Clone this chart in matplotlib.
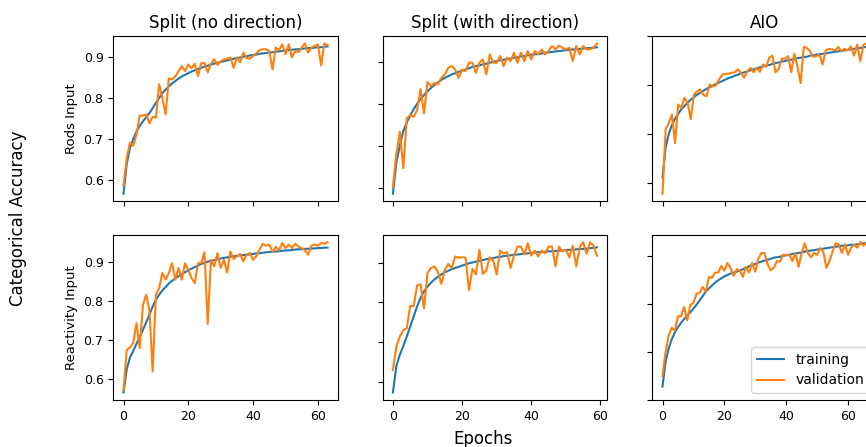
import matplotlib
matplotlib.use("Agg")
import matplotlib.pyplot as plt
import numpy as np

col_titles = ["Split (no direction)", "Split (with direction)", "AIO"]
row_labels = ["Rods Input", "Reactivity Input"]

# ---- Rods input ----
rods_split_nodir_train = [0.567, 0.640, 0.678, 0.700, 0.718, 0.732, 0.743, 0.753, 0.763, 0.775,
                          0.788, 0.800, 0.811, 0.820, 0.828, 0.835, 0.841, 0.847, 0.852, 0.856,
                          0.860, 0.864, 0.867, 0.870, 0.873, 0.876, 0.878, 0.881, 0.883, 0.885,
                          0.887, 0.889, 0.891, 0.893, 0.895, 0.897, 0.898, 0.900, 0.901, 0.903,
                          0.904, 0.905, 0.907, 0.908, 0.909, 0.910, 0.911, 0.912, 0.913, 0.914,
                          0.915, 0.916, 0.917, 0.918, 0.918, 0.919, 0.920, 0.921, 0.921, 0.922,
                          0.923, 0.923, 0.924, 0.925]
rods_split_nodir_val = [0.586, 0.654, 0.691, 0.684, 0.711, 0.757, 0.757, 0.760, 0.738, 0.754,
                        0.752, 0.833, 0.800, 0.760, 0.847, 0.845, 0.852, 0.865, 0.877, 0.865,
                        0.881, 0.872, 0.883, 0.853, 0.884, 0.885, 0.862, 0.883, 0.894, 0.880,
                        0.889, 0.893, 0.895, 0.898, 0.873, 0.898, 0.886, 0.910, 0.897, 0.895,
                        0.902, 0.908, 0.916, 0.918, 0.918, 0.914, 0.869, 0.922, 0.916, 0.930,
                        0.906, 0.930, 0.898, 0.914, 0.911, 0.922, 0.932, 0.910, 0.922, 0.926,
                        0.930, 0.879, 0.932, 0.928]

rods_split_dir_train = [0.585, 0.660, 0.700, 0.735, 0.755, 0.772, 0.787, 0.800, 0.811, 0.821,
                        0.830, 0.838, 0.845, 0.851, 0.857, 0.862, 0.866, 0.870, 0.873, 0.876,
                        0.879, 0.882, 0.885, 0.888, 0.890, 0.892, 0.894, 0.896, 0.898, 0.900,
                        0.902, 0.904, 0.905, 0.907, 0.908, 0.910, 0.911, 0.913, 0.914, 0.916,
                        0.917, 0.918, 0.919, 0.920, 0.922, 0.923, 0.924, 0.925, 0.926, 0.927,
                        0.928, 0.929, 0.930, 0.930, 0.931, 0.932, 0.933, 0.933, 0.934, 0.935]
rods_split_dir_val = [0.601, 0.680, 0.733, 0.646, 0.765, 0.773, 0.769, 0.785, 0.835, 0.777,
                      0.852, 0.842, 0.850, 0.846, 0.862, 0.870, 0.886, 0.890, 0.882, 0.862,
                      0.882, 0.878, 0.898, 0.898, 0.874, 0.898, 0.906, 0.870, 0.918, 0.898,
                      0.898, 0.914, 0.890, 0.910, 0.902, 0.922, 0.898, 0.922, 0.902, 0.926,
                      0.906, 0.926, 0.918, 0.930, 0.918, 0.926, 0.938, 0.930, 0.939, 0.934,
                      0.930, 0.934, 0.902, 0.938, 0.918, 0.938, 0.930, 0.930, 0.934, 0.944]

rods_aio_train = [0.610, 0.672, 0.700, 0.718, 0.731, 0.741, 0.750, 0.757, 0.764, 0.770,
                  0.775, 0.780, 0.784, 0.788, 0.792, 0.795, 0.799, 0.802, 0.805, 0.808,
                  0.811, 0.814, 0.816, 0.819, 0.821, 0.824, 0.826, 0.828, 0.830, 0.832,
                  0.834, 0.836, 0.838, 0.840, 0.841, 0.843, 0.845, 0.846, 0.848, 0.849,
                  0.851, 0.852, 0.853, 0.855, 0.856, 0.857, 0.858, 0.860, 0.861, 0.862,
                  0.863, 0.864, 0.865, 0.866, 0.867, 0.868, 0.869, 0.870, 0.871, 0.872,
                  0.873, 0.874, 0.875, 0.876, 0.877, 0.878]
rods_aio_val = [0.577, 0.709, 0.722, 0.739, 0.681, 0.760, 0.753, 0.774, 0.763, 0.730,
                0.780, 0.787, 0.791, 0.780, 0.777, 0.801, 0.797, 0.799, 0.811, 0.821,
                0.823, 0.823, 0.825, 0.826, 0.832, 0.825, 0.815, 0.828, 0.835, 0.826,
                0.835, 0.827, 0.842, 0.837, 0.856, 0.860, 0.826, 0.833, 0.854, 0.854,
                0.859, 0.826, 0.864, 0.837, 0.804, 0.878, 0.876, 0.869, 0.858, 0.859,
                0.862, 0.842, 0.871, 0.874, 0.873, 0.871, 0.878, 0.869, 0.874, 0.871,
                0.879, 0.860, 0.883, 0.849, 0.883, 0.885]

# ---- Reactivity input ----
react_split_nodir_train = [0.565, 0.625, 0.655, 0.672, 0.690, 0.708, 0.726, 0.745, 0.765, 0.786,
                           0.803, 0.816, 0.827, 0.836, 0.845, 0.852, 0.858, 0.864, 0.869, 0.874,
                           0.879, 0.883, 0.887, 0.891, 0.895, 0.898, 0.901, 0.903, 0.905, 0.907,
                           0.909, 0.911, 0.912, 0.914, 0.915, 0.916, 0.917, 0.918, 0.919, 0.920,
                           0.921, 0.922, 0.923, 0.924, 0.925, 0.926, 0.927, 0.927, 0.928, 0.929,
                           0.930, 0.930, 0.931, 0.932, 0.933, 0.933, 0.934, 0.934, 0.935, 0.935,
                           0.936, 0.936, 0.937, 0.937]
react_split_nodir_val = [0.571, 0.674, 0.681, 0.692, 0.743, 0.679, 0.790, 0.816, 0.777, 0.619,
                         0.816, 0.833, 0.872, 0.855, 0.872, 0.897, 0.855, 0.885, 0.855, 0.897,
                         0.880, 0.859, 0.846, 0.897, 0.897, 0.925, 0.741, 0.906, 0.889, 0.923,
                         0.885, 0.906, 0.873, 0.927, 0.908, 0.915, 0.921, 0.902, 0.919, 0.923,
                         0.906, 0.915, 0.932, 0.947, 0.942, 0.945, 0.927, 0.939, 0.930, 0.949,
                         0.936, 0.945, 0.936, 0.947, 0.940, 0.936, 0.930, 0.919, 0.942, 0.945,
                         0.942, 0.949, 0.947, 0.951]

react_split_dir_train = [0.573, 0.640, 0.668, 0.690, 0.714, 0.739, 0.765, 0.790, 0.812, 0.828,
                         0.840, 0.850, 0.858, 0.865, 0.871, 0.876, 0.880, 0.884, 0.887, 0.890,
                         0.893, 0.896, 0.899, 0.901, 0.903, 0.905, 0.907, 0.909, 0.911, 0.912,
                         0.914, 0.915, 0.917, 0.918, 0.919, 0.920, 0.921, 0.922, 0.923, 0.924,
                         0.925, 0.926, 0.927, 0.927, 0.928, 0.929, 0.929, 0.930, 0.931, 0.931,
                         0.932, 0.933, 0.933, 0.934, 0.935, 0.935, 0.936, 0.937, 0.938, 0.939]
react_split_dir_val = [0.630, 0.689, 0.714, 0.730, 0.735, 0.791, 0.791, 0.843, 0.846, 0.785,
                       0.874, 0.887, 0.891, 0.877, 0.847, 0.882, 0.897, 0.887, 0.916, 0.913,
                       0.914, 0.913, 0.831, 0.885, 0.871, 0.933, 0.872, 0.881, 0.914, 0.906,
                       0.871, 0.931, 0.924, 0.927, 0.887, 0.918, 0.941, 0.941, 0.921, 0.949,
                       0.918, 0.931, 0.916, 0.931, 0.924, 0.941, 0.941, 0.891, 0.941, 0.929,
                       0.933, 0.914, 0.943, 0.891, 0.939, 0.952, 0.923, 0.952, 0.943, 0.918]

react_aio_train = [0.628, 0.680, 0.708, 0.727, 0.741, 0.752, 0.761, 0.769, 0.776, 0.783,
                   0.791, 0.799, 0.808, 0.817, 0.826, 0.833, 0.839, 0.845, 0.850, 0.854,
                   0.858, 0.861, 0.864, 0.866, 0.868, 0.870, 0.873, 0.876, 0.879, 0.882,
                   0.884, 0.887, 0.889, 0.891, 0.893, 0.895, 0.897, 0.898, 0.899, 0.901,
                   0.902, 0.903, 0.905, 0.906, 0.907, 0.908, 0.910, 0.911, 0.912, 0.913,
                   0.914, 0.915, 0.916, 0.917, 0.918, 0.919, 0.920, 0.921, 0.922, 0.922,
                   0.923, 0.924, 0.924, 0.925, 0.926, 0.927, 0.928]
react_aio_val = [0.650, 0.701, 0.735, 0.751, 0.745, 0.775, 0.775, 0.794, 0.766, 0.799,
                 0.802, 0.822, 0.824, 0.836, 0.826, 0.857, 0.855, 0.866, 0.866, 0.880,
                 0.870, 0.886, 0.876, 0.859, 0.873, 0.870, 0.857, 0.878, 0.866, 0.886,
                 0.868, 0.895, 0.907, 0.907, 0.883, 0.871, 0.876, 0.890, 0.889, 0.903,
                 0.903, 0.903, 0.890, 0.907, 0.878, 0.907, 0.927, 0.907, 0.898, 0.907,
                 0.903, 0.917, 0.910, 0.876, 0.890, 0.910, 0.927, 0.925, 0.907, 0.925,
                 0.903, 0.918, 0.924, 0.918, 0.930, 0.922, 0.929]

panels = [
    [(rods_split_nodir_train, rods_split_nodir_val),
     (rods_split_dir_train, rods_split_dir_val),
     (rods_aio_train, rods_aio_val)],
    [(react_split_nodir_train, react_split_nodir_val),
     (react_split_dir_train, react_split_dir_val),
     (react_aio_train, react_aio_val)],
]

W, H = 866, 447
fig = plt.figure(figsize=(W / 100, H / 100), dpi=100)

col_left = [113.3, 382.7, 652.3]
ax_w = 224.5
row_top = [36.0, 234.7]
ax_h = 165.3

for r in range(2):
    for c in range(3):
        l = col_left[c]
        t = row_top[r]
        ax = fig.add_axes([l / W, (H - t - ax_h) / H, ax_w / W, ax_h / H])
        tr, va = panels[r][c]
        ax.plot(np.arange(len(tr)), tr, color="#1f77b4", lw=1.5, label="training")
        ax.plot(np.arange(len(va)), va, color="#ff7f0e", lw=1.5, label="validation")
        ax.set_xticks([0, 20, 40, 60])
        ax.set_yticks([0.6, 0.7, 0.8, 0.9])
        ax.tick_params(labelsize=9)
        if r == 0:
            ax.set_title(col_titles[c], fontsize=12)
            ax.tick_params(labelbottom=False)
        if c == 0:
            ax.set_ylabel(row_labels[r], fontsize=9.5)
        else:
            ax.tick_params(labelleft=False)
        if r == 1 and c == 2:
            ax.legend(loc="lower right", fontsize=10)

fig.text(18.5 / W, 1 - 217.9 / H, "Categorical Accuracy", rotation=90,
         ha="center", va="center", fontsize=12)
fig.text(483 / W, 1 - 438.5 / H, "Epochs", ha="center", va="center", fontsize=12)

fig.savefig("out.png", dpi=100)
